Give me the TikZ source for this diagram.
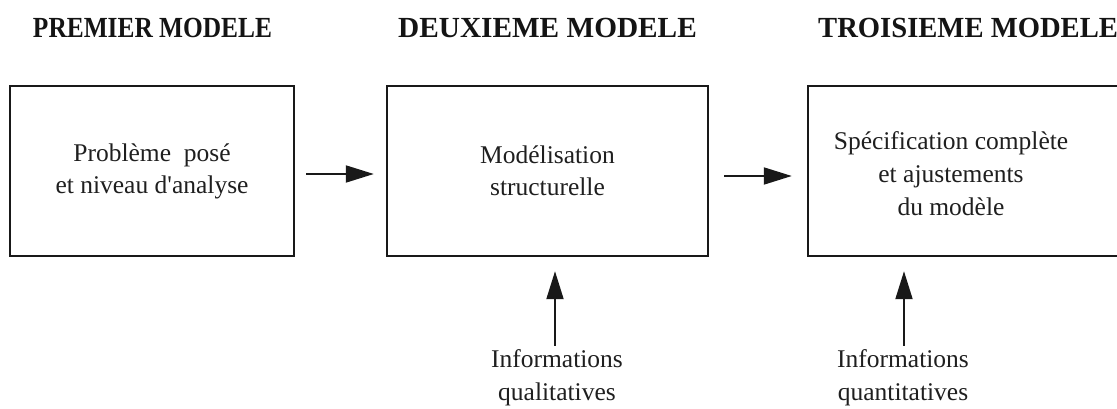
\documentclass[tikz,border=0pt]{standalone}
\usepackage{fontspec}
\setmainfont{Liberation Serif}
\usetikzlibrary{arrows.meta}

\begin{document}
\begin{tikzpicture}[x=1pt,y=-1pt,
  box/.style={draw=black!90, line width=2.4pt, minimum height=170pt, inner sep=0pt},
  body/.style={font=\fontsize{25.5}{32}\selectfont, align=center, inner sep=0pt, text=black!88},
  title/.style={font=\fontsize{27}{30}\bfseries\selectfont, inner sep=0pt, text=black!92},
  flow/.style={line width=1.9pt, draw=black!90, -{Triangle[length=28pt,width=17pt]}}
]
\useasboundingbox (0,0) rectangle (1117,409);
\clip (0,0) rectangle (1117,409);

% column headings
\node[title] (t1) at (152.5,28) {\scalebox{0.94}[1.08]{PREMIER MODELE}};
\node[title] (t2) at (547.5,28) {\scalebox{1.085}[1.08]{DEUXIEME MODELE}};
\node[title, anchor=west] (t3) at (818,28) {\scalebox{1.06}[1.08]{TROISIEME MODELE}};

% the three stages
\node[box, minimum width=284pt, body] (b1) at (152,171) {Problème~~posé\\et niveau d\textquotesingle analyse};
\node[box, minimum width=321pt, body] (b2) at (547.5,171) {Modélisation\\structurelle};
\node[box, minimum width=310pt] (b3) at (963,171) {};
\node[body] (b3txt) at (951,174) {Spécification complète\\[1pt]et ajustements\\[1pt]du modèle};

% information sources
\node[body, font=\fontsize{25.5}{33}\selectfont] (i1) at (557,378) {Informations\\qualitatives};
\node[body, font=\fontsize{25.5}{33}\selectfont] (i2) at (903,378) {Informations\\quantitatives};

% flow between stages
\draw[flow, shorten <=11pt, shorten >=12pt] ([yshift=-3pt]b1.east) -- ([yshift=-3pt]b1.east -| b2.west);
\draw[flow, shorten <=15pt, shorten >=15pt] ([yshift=-5pt]b2.east) -- ([yshift=-5pt]b2.east -| b3.west);

% inputs feeding the stages
\draw[flow, shorten <=4pt, shorten >=14pt] ([xshift=-2pt]i1.north) -- ([xshift=-2pt]i1.north |- b2.south);
\draw[flow, shorten <=4pt, shorten >=14pt] ([xshift=1pt]i2.north) -- ([xshift=1pt]i2.north |- b3.south);
\end{tikzpicture}
\end{document}
